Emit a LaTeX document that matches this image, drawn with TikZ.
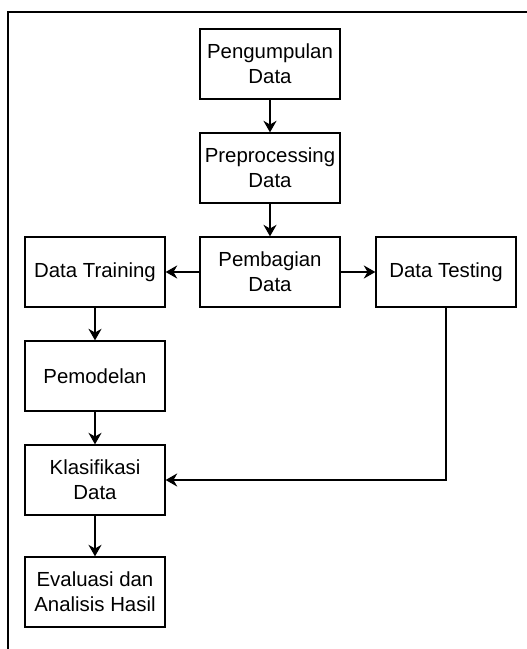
\documentclass[tikz,border=0pt]{standalone}
\usepackage{fontspec}
\setmainfont{Liberation Sans}
\usetikzlibrary{arrows.meta}

\begin{document}
\begin{tikzpicture}[x=0.025cm, y=-0.025cm,
        box/.style={draw, line width=0.9pt, minimum width=3.5cm, minimum height=1.75cm,
                    align=center, inner sep=0pt, font=\fontsize{14.5}{17.5}\selectfont},
        arr/.style={-{Stealth[length=2.9mm, width=3.3mm]}, line width=0.9pt}]
        \useasboundingbox (0,0) rectangle (526,649);

        % Frame
        \draw[line width=1.2pt] (530,12) -- (8,12) -- (8,655);

        % Boxes
        \node[box] (kumpul)   at (270,  64) {Pengumpulan\\Data};
        \node[box] (prepro)   at (270, 168) {Preprocessing\\Data};
        \node[box] (bagi)     at (270, 272) {Pembagian\\Data};
        \node[box] (training) at ( 95, 272) {Data Training};
        \node[box] (testing)  at (446, 272) {Data Testing};
        \node[box] (model)    at ( 95, 376) {Pemodelan};
        \node[box] (klasif)   at ( 95, 480) {Klasifikasi\\Data};
        \node[box] (evaluasi) at ( 95, 592) {Evaluasi dan\\Analisis Hasil};

        % Arrows
        \draw[arr] (kumpul)   -- (prepro);
        \draw[arr] (prepro)   -- (bagi);
        \draw[arr] (bagi)     -- (training);
        \draw[arr] (bagi)     -- (testing);
        \draw[arr] (training) -- (model);
        \draw[arr] (model)    -- (klasif);
        \draw[arr] (klasif)   -- (evaluasi);
        \draw[arr] (testing)  |- (klasif); % test data into classification
\end{tikzpicture}
\end{document}
